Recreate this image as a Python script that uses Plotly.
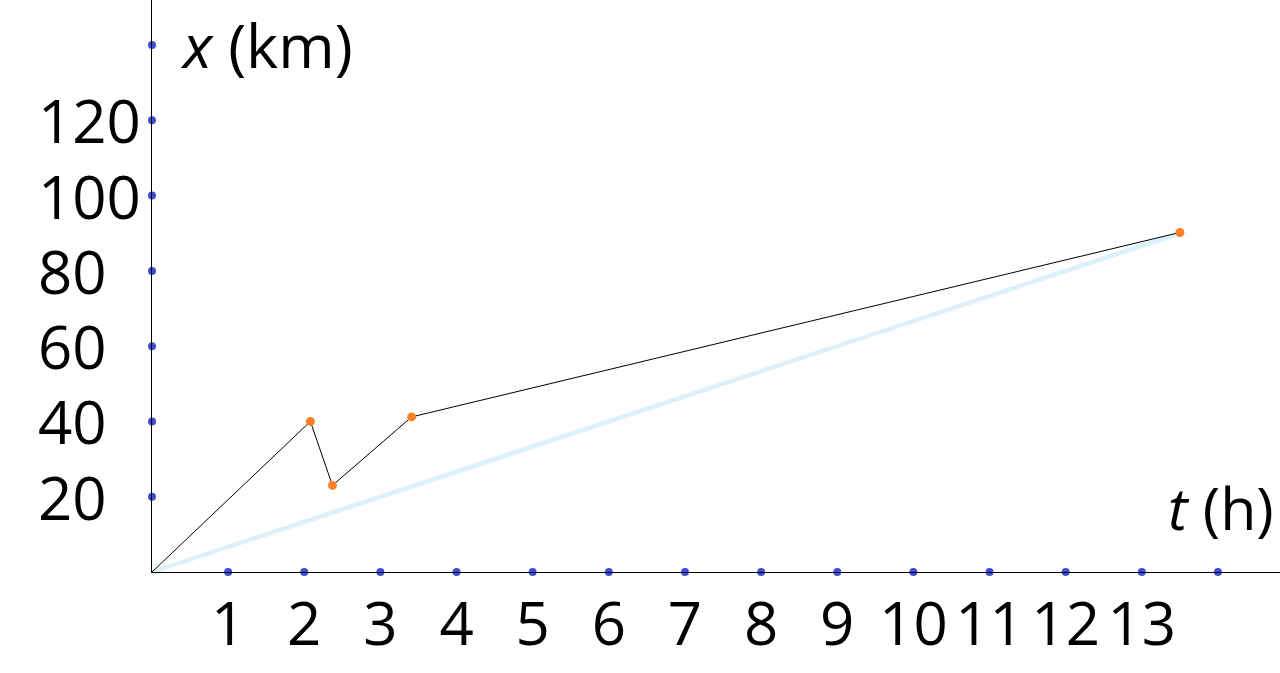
import plotly.graph_objects as go

# data
t_path = [0, 2.08, 2.37, 3.41, 13.5]
x_path = [0, 40.0, 23.0, 41.2, 90.2]
t_marks = [2.08, 2.37, 3.41, 13.5]
x_marks = [40.0, 23.0, 41.2, 90.2]
t_ref = [0, 13.5]
x_ref = [0, 90.0]
x_ticks = list(range(1, 15))
x_ticklabels = [str(v) for v in range(1, 14)] + [""]
y_ticks = [20, 40, 60, 80, 100, 120, 140]
y_ticklabels = ["20", "40", "60", "80", "100", "120"]

FONT = "Open Sans"
FS = 60
BLUE = "rgb(64,78,212)"

fig = go.Figure()
fig.add_trace(go.Scatter(x=t_ref, y=x_ref, mode="lines",
                         line=dict(color="rgb(220,240,253)", width=4.5),
                         hoverinfo="skip"))
fig.add_trace(go.Scatter(x=t_path, y=x_path, mode="lines",
                         line=dict(color="black", width=1)))
fig.add_trace(go.Scatter(x=t_marks, y=x_marks, mode="markers",
                         marker=dict(color="rgb(255,128,40)", size=9),
                         cliponaxis=False))
fig.add_trace(go.Scatter(x=x_ticks, y=[0] * len(x_ticks), mode="markers",
                         marker=dict(color=BLUE, size=8), cliponaxis=False))
fig.add_trace(go.Scatter(x=[0] * len(y_ticks), y=y_ticks, mode="markers",
                         marker=dict(color=BLUE, size=8), cliponaxis=False))

# y tick labels, left aligned
for v, lab in zip(y_ticks, y_ticklabels):
    fig.add_annotation(x=-116 / 1128, xref="paper", y=v, yref="y", text=lab,
                       showarrow=False, xanchor="left", yanchor="middle",
                       font=dict(family=FONT, size=FS, color="black"))

fig.add_annotation(x=26 / 1128, xref="paper", y=1 - 45 / 572, yref="paper",
                   text="<i>x</i> (km)", showarrow=False, xanchor="left",
                   yanchor="middle",
                   font=dict(family=FONT, size=61, color="black"))
fig.add_annotation(x=1014 / 1128, xref="paper", y=1 - 507 / 572, yref="paper",
                   text="<i>t</i> (h)", showarrow=False, xanchor="left",
                   yanchor="middle",
                   font=dict(family=FONT, size=59, color="black"))

fig.update_layout(
    width=1280, height=673,
    margin=dict(l=152, r=0, t=0, b=101, autoexpand=False),
    paper_bgcolor="white", plot_bgcolor="white",
    showlegend=False,
    xaxis=dict(range=[0, 1128 / 76.14], showgrid=False, zeroline=False,
               showline=True, linecolor="black", linewidth=1,
               automargin=False,
               tickmode="array", tickvals=x_ticks, ticktext=x_ticklabels,
               ticks="", ticklabelstandoff=0,
               tickfont=dict(family=FONT, size=FS, color="black")),
    yaxis=dict(range=[0, 572 / 3.764], showgrid=False, zeroline=False,
               showline=True, linecolor="black", linewidth=1,
               automargin=False,
               showticklabels=False, ticks=""),
)
fig.write_html("out.html",
               config={"displayModeBar": False},
               post_script="document.body.style.margin='0';"
                           "document.body.style.overflow='hidden';")
